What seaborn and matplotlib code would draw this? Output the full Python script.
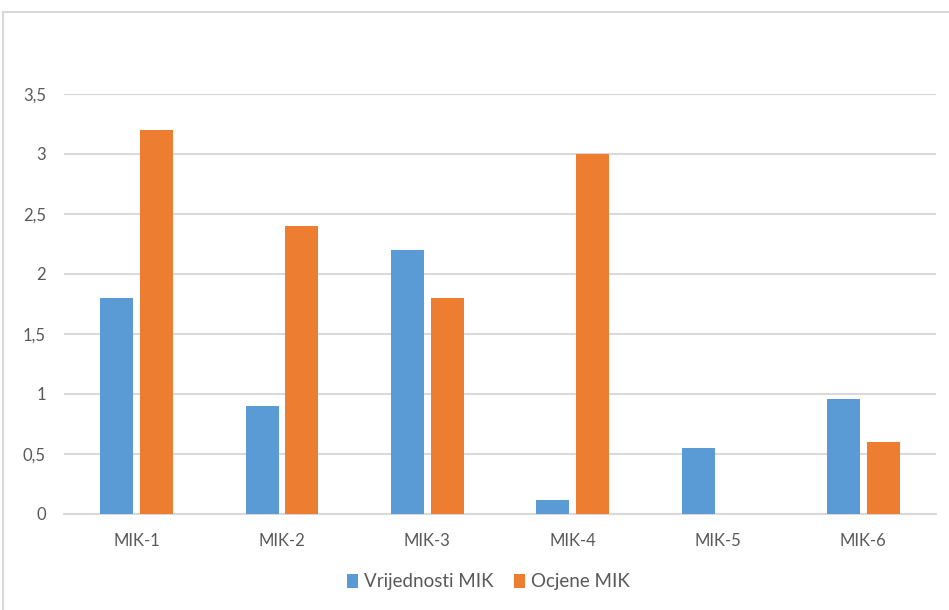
import matplotlib
matplotlib.use("Agg")
import matplotlib.pyplot as plt
import seaborn as sns
import pandas as pd
from matplotlib.patches import Patch
from matplotlib.lines import Line2D

categories = ["MIK-1", "MIK-2", "MIK-3", "MIK-4", "MIK-5", "MIK-6"]
vrijednosti = [1.8, 0.9, 2.2, 0.12, 0.55, 0.96]
ocjene = [3.2, 2.4, 1.8, 3.0, 0.0, 0.6]
series_names = ["Vrijednosti MIK", "Ocjene MIK"]
y_ticks = [0, 0.5, 1, 1.5, 2, 2.5, 3, 3.5]
y_tick_labels = ["0", "0,5", "1", "1,5", "2", "2,5", "3", "3,5"]

colors = ["#5B9BD5", "#ED7D31"]
grid_color = "#D9D9D9"
text_color = "#595959"

sns.set_theme(style="white")
plt.rcParams["font.family"] = ["Lato", "DejaVu Sans"]

df = pd.DataFrame({
    "kategorija": categories * 2,
    "vrijednost": vrijednosti + ocjene,
    "serija": [series_names[0]] * len(categories) + [series_names[1]] * len(categories),
})

fig = plt.figure(figsize=(9.49, 6.10), dpi=100)
ax = fig.add_axes([64 / 949, 1 - 514 / 610, (936 - 64) / 949, (514 - 94) / 610])

sns.barplot(data=df, x="kategorija", y="vrijednost", hue="serija",
            palette=colors, saturation=1, width=0.55, gap=0.175, ax=ax,
            legend=False, edgecolor="none", zorder=3)

ax.set_xlim(-0.5, len(categories) - 0.5)
ax.set_ylim(0, 3.5)
ax.set_yticks(y_ticks)
ax.set_yticklabels(y_tick_labels)
ax.set_xlabel("")
ax.set_ylabel("")

ax.yaxis.grid(True, color=grid_color, linewidth=1.5, zorder=0)
ax.set_axisbelow(True)
for side in ["top", "right", "left"]:
    ax.spines[side].set_visible(False)
ax.spines["bottom"].set_color(grid_color)
ax.spines["bottom"].set_linewidth(1.5)
ax.spines["bottom"].set_zorder(1)

ax.tick_params(axis="y", length=0, pad=13, labelsize=12, labelcolor=text_color)
ax.tick_params(axis="x", length=0, pad=14, labelsize=12, labelcolor=text_color)

handles = [Patch(facecolor=c, edgecolor="none") for c in colors]
fig.legend(handles, series_names, loc="center", bbox_to_anchor=(488 / 949, 1 - 582 / 610),
           ncol=2, frameon=False, fontsize=13.5, labelcolor=text_color,
           handlelength=0.6, handleheight=0.8, handletextpad=0.3, columnspacing=1.1)

# outer chart frame
fig.add_artist(Line2D([3 / 949, 3 / 949], [0, 1 - 12 / 610], transform=fig.transFigure,
                      color=grid_color, linewidth=1.5))
fig.add_artist(Line2D([3 / 949, 1], [1 - 12 / 610, 1 - 12 / 610], transform=fig.transFigure,
                      color=grid_color, linewidth=1.5))

fig.savefig("out.png", dpi=100)
